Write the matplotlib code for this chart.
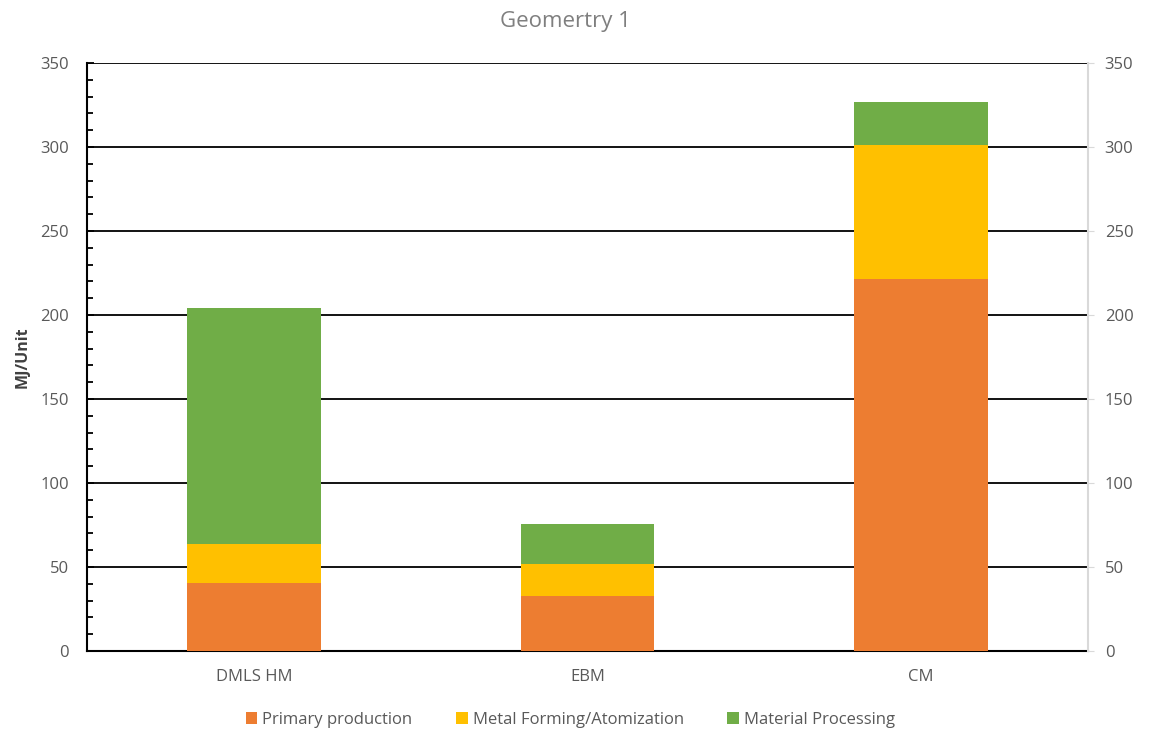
import matplotlib.pyplot as plt
from matplotlib.ticker import MultipleLocator

categories = ['DMLS HM', 'EBM', 'CM']
primary = [40.5, 32.7, 221.5]
forming = [23.2, 19.1, 79.7]
processing = [140.5, 23.8, 25.6]
labels = ['Primary production', 'Metal Forming/Atomization', 'Material Processing']
colors = ['#ED7D31', '#FFC000', '#70AD47']

plt.rcParams['font.family'] = ['Open Sans', 'DejaVu Sans']

fig = plt.figure(figsize=(11.52, 7.36), dpi=100)
ax = fig.add_axes([0.0755, 0.1155, 0.869, 0.799])

x = range(len(categories))
b1 = ax.bar(x, primary, 0.4, color=colors[0], label=labels[0], zorder=3)
bottom2 = primary
b2 = ax.bar(x, forming, 0.4, bottom=bottom2, color=colors[1], label=labels[1], zorder=3)
bottom3 = [p + f for p, f in zip(primary, forming)]
b3 = ax.bar(x, processing, 0.4, bottom=bottom3, color=colors[2], label=labels[2], zorder=3)

ax.set_xlim(-0.5, 2.5)
ax.set_ylim(0, 350)
ax.set_xticks(list(x))
ax.set_xticklabels(categories)
ax.yaxis.set_major_locator(MultipleLocator(50))
ax.yaxis.set_minor_locator(MultipleLocator(10))
ax.grid(axis='y', color='black', linewidth=1.3, zorder=1)

ax.spines['top'].set_visible(False)
ax.spines['right'].set_visible(False)
ax.spines['left'].set_color('black')
ax.spines['left'].set_linewidth(1.5)
ax.spines['bottom'].set_color('black')
ax.spines['bottom'].set_linewidth(1.5)

ax.tick_params(axis='y', which='major', direction='in', length=5, width=1.3,
               colors='black', labelcolor='#595959', labelsize=12, pad=13)
ax.tick_params(axis='y', which='minor', direction='in', length=4, width=1.3, colors='black')
ax.tick_params(axis='x', length=0, labelcolor='#595959', labelsize=12, pad=13)

ax2 = ax.twinx()
ax2.set_ylim(0, 350)
ax2.yaxis.set_major_locator(MultipleLocator(50))
for s in ['top', 'left', 'bottom']:
    ax2.spines[s].set_visible(False)
ax2.spines['right'].set_color('#D9D9D9')
ax2.spines['right'].set_linewidth(1.5)
ax2.tick_params(axis='y', length=4, color='#D9D9D9', labelcolor='#595959', labelsize=12, pad=8)

ax.set_ylabel('MJ/Unit', fontsize=11.5, fontweight='bold', color='#404040', labelpad=7)
fig.suptitle('Geomertry 1', x=0.491, y=0.985, va='top', fontsize=16, color='#7F7F7F')

fig.legend(handles=[b1, b2, b3], labels=labels, loc='center', bbox_to_anchor=(0.495, 0.022),
           ncol=3, frameon=False, fontsize=12, handlelength=0.7, handleheight=0.7,
           handletextpad=0.3, columnspacing=2.6, labelcolor='#595959')

fig.savefig('out.png', dpi=100)
